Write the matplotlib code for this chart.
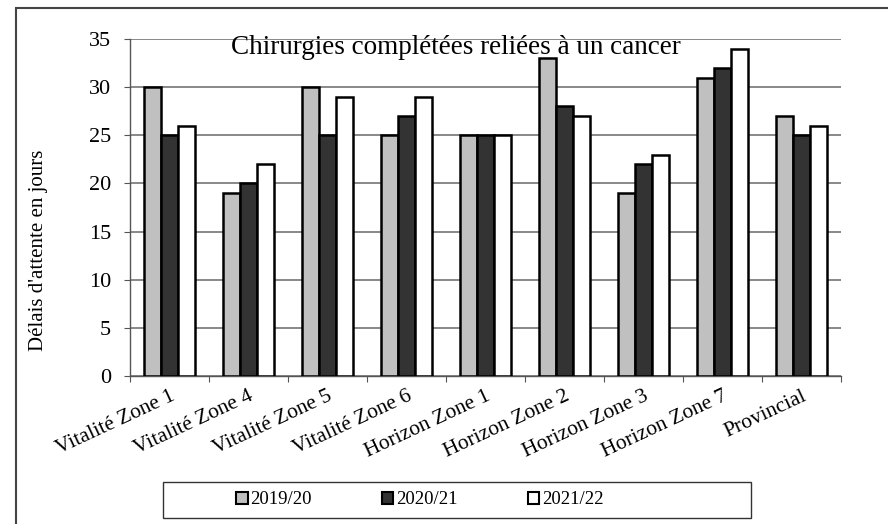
import numpy as np
import matplotlib.pyplot as plt
from matplotlib.patches import Rectangle

categories = ["Vitalité Zone 1", "Vitalité Zone 4", "Vitalité Zone 5", "Vitalité Zone 6",
              "Horizon Zone 1", "Horizon Zone 2", "Horizon Zone 3", "Horizon Zone 7",
              "Provincial"]
y2019 = [30, 19, 30, 25, 25, 33, 19, 31, 27]
y2020 = [25, 20, 25, 27, 25, 28, 22, 32, 25]
y2021 = [26, 22, 29, 29, 25, 27, 23, 34, 26]
series_labels = ["2019/20", "2020/21", "2021/22"]
colors = ["#C0C0C0", "#333333", "#FFFFFF"]

plt.rcParams['font.family'] = ['Liberation Serif', 'DejaVu Serif']

fig = plt.figure(figsize=(8.88, 5.24), dpi=100)
W, H = 888, 524
ax = fig.add_axes([130 / W, 1 - 376 / H, (841 - 130) / W, (376 - 39) / H])

x = np.arange(len(categories))
bw = 0.215
for i, vals in enumerate([y2019, y2020, y2021]):
    ax.bar(x + (i - 1) * bw, vals, bw, color=colors[i], edgecolor="black",
           linewidth=1.8, label=series_labels[i], zorder=3)

ax.set_xlim(-0.5, len(categories) - 0.5)
ax.set_ylim(0, 35)
ax.set_yticks(range(0, 36, 5))
ax.yaxis.grid(True, color="#7f7f7f", linewidth=1.3, zorder=0)
ax.set_xticks(np.arange(len(categories) + 1) - 0.5)
ax.set_xticklabels([])
ax.set_xticks(x, minor=True)
ax.set_xticklabels(categories, minor=True, rotation=25, ha="right",
                   rotation_mode="anchor", fontsize=15.5)
ax.tick_params(axis="x", which="minor", length=0, pad=8)
ax.tick_params(axis="x", which="major", length=4.5, color="#555555", direction="out")
ax.tick_params(axis="y", length=4.5, color="#555555", labelsize=16, pad=9)
for s in ["top", "right"]:
    ax.spines[s].set_visible(False)
for s in ["left", "bottom"]:
    ax.spines[s].set_color("#555555")
    ax.spines[s].set_linewidth(1.0)

fig.text(39 / W, 1 - 250 / H, "Délais d'attente en jours", rotation=90,
         ha="center", va="center", fontsize=15)
ax.text(456 / W, 1 - 47 / H, "Chirurgies complétées reliées à un cancer", transform=fig.transFigure,
        ha="center", va="center", fontsize=19.5)

leg = fig.legend(loc="center", bbox_to_anchor=(420 / W, 1 - 500 / H), ncol=3,
                 frameon=False, fontsize=13.5,
                 handlelength=0.6, handleheight=0.6, handletextpad=0.15,
                 columnspacing=3.75, borderpad=0.3)
for h in leg.legend_handles:
    h.set_linewidth(1.5)

fig.patches.append(Rectangle((163 / W, 1 - 518 / H), (751 - 163) / W, 36 / H,
                             transform=fig.transFigure, fill=False,
                             edgecolor="#333333", linewidth=1.0))
fig.patches.append(Rectangle((16 / W, -0.1), 1.1, 1 - 8 / H + 0.1, transform=fig.transFigure,
                             fill=False, edgecolor="#444444", linewidth=1.5, clip_on=False))

fig.savefig("out.png", dpi=100)
